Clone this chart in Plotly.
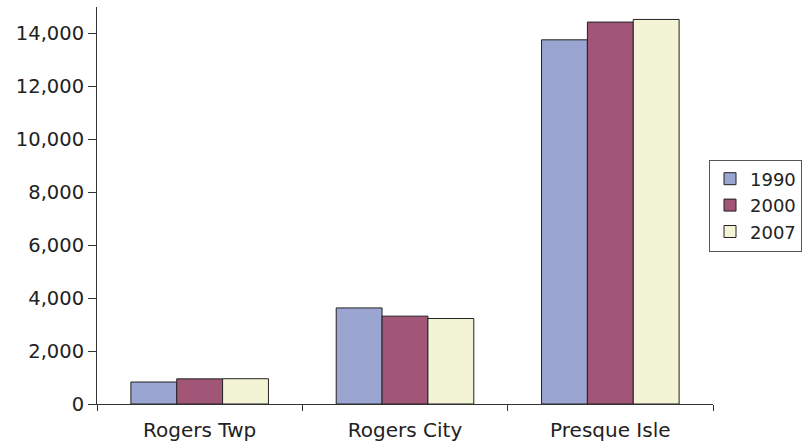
import plotly.graph_objects as go

# Population by place and census year
places = ["Rogers Twp", "Rogers City", "Presque Isle"]
years = ["1990", "2000", "2007"]
pop_1990 = [830, 3630, 13760]
pop_2000 = [950, 3320, 14430]
pop_2007 = [955, 3230, 14530]

series = [pop_1990, pop_2000, pop_2007]
colors = ["#9AA5D2", "#A15577", "#F3F4D6"]

fig = go.Figure()
for year, vals, col in zip(years, series, colors):
    fig.add_trace(go.Bar(
        x=places, y=vals, name=year,
        marker=dict(color=col, line=dict(color="#222222", width=1)),
    ))

fig.update_layout(
    width=809, height=445,
    margin=dict(l=97, r=96, t=7, b=41, autoexpand=False),
    paper_bgcolor="white", plot_bgcolor="white",
    barmode="group", bargap=0.33, bargroupgap=0,
    font=dict(family="DejaVu Sans", size=19, color="#222222"),
    showlegend=True,
    legend=dict(
        x=1.1445, y=0.5, xanchor="right", yanchor="middle",
        bordercolor="#555555", borderwidth=1, bgcolor="white",
        font=dict(family="DejaVu Sans", size=18, color="#222222"),
        tracegroupgap=0, itemwidth=30,
    ),
    xaxis=dict(
        showline=True, linecolor="#333333", linewidth=1,
        ticks="outside", tickson="boundaries", ticklen=6, tickcolor="#333333",
        tickfont=dict(size=20), ticklabelstandoff=8,
        showgrid=False, zeroline=False,
    ),
    yaxis=dict(
        range=[0, 15000], dtick=2000, tickformat=",d",
        showline=True, linecolor="#333333", linewidth=1,
        ticks="outside", ticklen=8, tickcolor="#333333",
        tickfont=dict(size=19.5),
        showgrid=False, zeroline=False,
    ),
)

fig.write_html("out.html")
